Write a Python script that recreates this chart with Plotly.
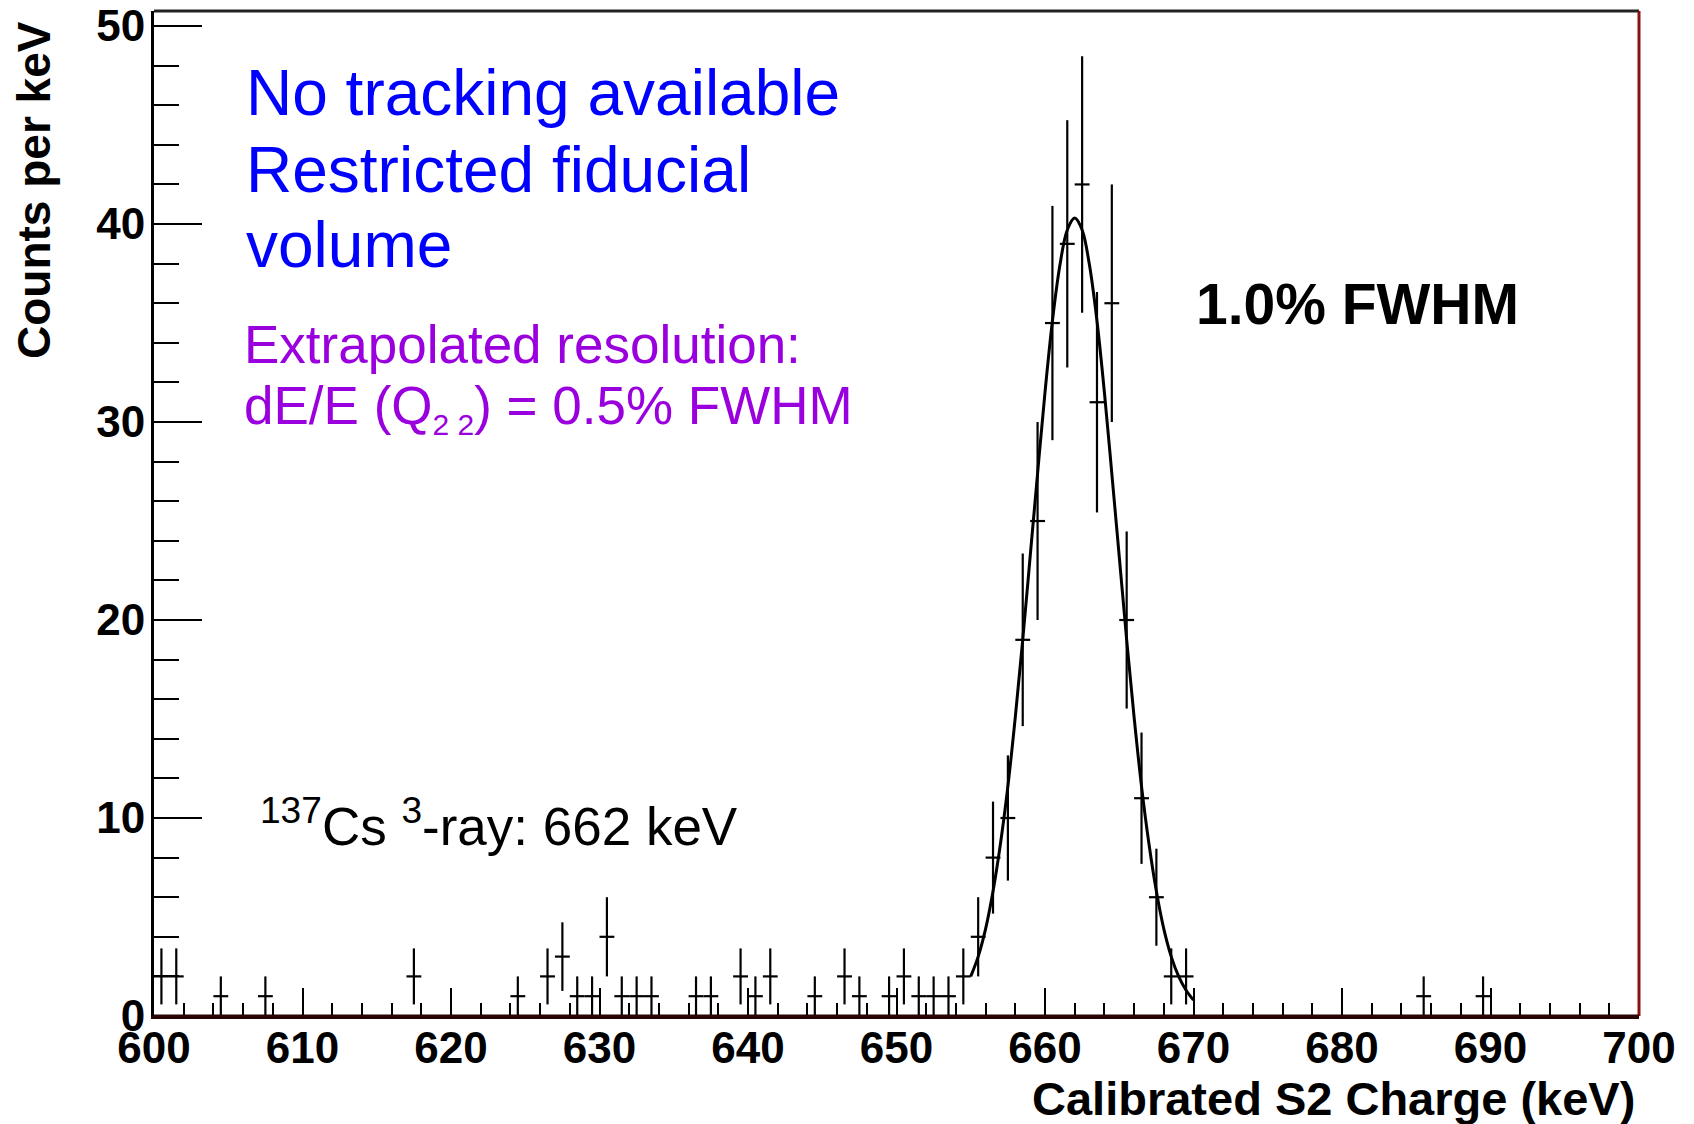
import numpy as np
import plotly.graph_objects as go

# ---------------- data ----------------
energy_keV = [600.5, 601.5, 604.5, 607.5, 617.5, 624.5, 626.5, 627.5, 628.5, 629.5,
              630.5, 631.5, 632.5, 633.5, 636.5, 637.5, 639.5, 640.5, 641.5, 644.5,
              646.5, 647.5, 649.5, 650.5, 651.5, 652.5, 653.5, 654.5, 655.5, 656.5,
              657.5, 658.5, 659.5, 660.5, 661.5, 662.5, 663.5, 664.5, 665.5, 666.5,
              667.5, 668.5, 669.5, 685.5, 689.5]
counts_per_keV = [2, 2, 1, 1, 2, 1, 2, 3, 1, 1,
                  4, 1, 1, 1, 1, 1, 2, 1, 2, 1,
                  2, 1, 1, 2, 1, 1, 1, 2, 4, 8,
                  10, 19, 25, 35, 39, 42, 31, 36, 20, 11,
                  6, 2, 2, 1, 1]
bin_half_width_keV = 0.5

fit_energy_keV = [655.0, 655.5, 656.0, 656.5, 657.0, 657.5, 658.0, 658.5, 659.0, 659.5,
                  660.0, 660.5, 661.0, 661.5, 662.0, 662.5, 663.0, 663.5, 664.0, 664.5,
                  665.0, 665.5, 666.0, 666.5, 667.0, 667.5, 668.0, 668.5, 669.0, 669.5,
                  670.0]
fit_counts = [2.0, 3.0, 4.4, 6.3, 8.7, 11.6, 15.1, 19.0, 23.2, 27.4,
              31.5, 35.1, 37.9, 39.7, 40.3, 39.7, 37.9, 35.1, 31.5, 27.4,
              23.2, 19.0, 15.1, 11.6, 8.7, 6.3, 4.4, 3.0, 2.0, 1.3,
              0.8]

x_ticks = [600, 610, 620, 630, 640, 650, 660, 670, 680, 690, 700]
y_ticks = [0, 10, 20, 30, 40, 50]

# ---------------- geometry (page pixels; page body has an 8px margin) ----------------
W, H = 1694, 1124
OFF = 8
L, R, T, B = 154 - OFF, 1639 - OFF, 11 - OFF, 1016 - OFF


def px(X):
    return (X - OFF - L) / (R - L)


def py(Y):
    return (B - (Y - OFF)) / (B - T)


FONT = "Liberation Sans, Arial, Helvetica, sans-serif"

errors = np.sqrt(np.array(counts_per_keV, dtype=float))

fig = go.Figure()

fig.add_trace(go.Scatter(
    x=energy_keV, y=counts_per_keV, mode="markers",
    marker=dict(size=1, color="black"),
    error_y=dict(type="data", array=errors, symmetric=True,
                 color="black", thickness=2.2, width=0),
    error_x=dict(type="constant", value=bin_half_width_keV,
                 color="black", thickness=2.2, width=0),
    showlegend=False, hoverinfo="x+y",
))

fig.add_trace(go.Scatter(
    x=fit_energy_keV, y=fit_counts, mode="lines",
    line=dict(color="black", width=3, shape="spline"),
    showlegend=False,
))

annotations = []


def ann(text, X, Y, size, color="black", bold=False, xanchor="left", angle=0):
    annotations.append(dict(
        text=text, xref="paper", yref="paper", x=px(X), y=py(Y),
        xanchor=xanchor, yanchor="middle", showarrow=False, textangle=angle,
        font=dict(family=FONT, size=size, color=color,
                  weight="bold" if bold else "normal"),
    ))


ann("No tracking available", 244, 93, 64, "#0000ff")
ann("Restricted fiducial", 244, 170, 64, "#0000ff")
ann("volume", 244, 245, 64, "#0000ff")
ann("Extrapolated resolution:", 242, 344, 53, "#9900dd")
ann("dE/E (Q<sub><span style='font-size:30px'>2 2</span></sub>) = 0.5% FWHM",
    242, 408, 53, "#9900dd")
ann("<sup>137</sup>Cs <sup>3</sup>-ray: 662 keV", 258, 822, 53, "black")
ann("1.0% FWHM", 1194, 304, 57, "black", bold=True)
ann("Calibrated S2 Charge (keV)", 1637, 1098, 47, "black", bold=True, xanchor="right")
ann("Counts per keV", 34, 190, 46, "black", bold=True, xanchor="center", angle=-90)

shapes = [
    dict(type="line", xref="paper", yref="paper", x0=0, x1=1, y0=1, y1=1,
         line=dict(color="#222222", width=3)),
    dict(type="line", xref="paper", yref="paper", x0=1, x1=1, y0=0, y1=1,
         line=dict(color="#8b1010", width=3)),
    dict(type="line", xref="paper", yref="paper", x0=0, x1=1, y0=0, y1=0,
         line=dict(color="#2a0505", width=3)),
]

fig.update_layout(
    width=W, height=H, autosize=False,
    margin=dict(l=L, r=W - R, t=T, b=H - B, pad=0, autoexpand=False),
    paper_bgcolor="white", plot_bgcolor="white",
    annotations=annotations, shapes=shapes,
    xaxis=dict(
        range=[600, 700], tickmode="array", tickvals=x_ticks,
        ticktext=[str(v) for v in x_ticks], automargin=False,
        ticks="inside", ticklen=28, tickwidth=2, tickcolor="black",
        ticklabelstandoff=-9, ticklabeloverflow="allow",
        minor=dict(dtick=2, tick0=600, ticks="inside", ticklen=13,
                   tickwidth=2, tickcolor="black", showgrid=False),
        showgrid=False, zeroline=False, showline=True, linecolor="#2a0505",
        linewidth=3,
        tickfont=dict(family=FONT, size=44, color="black", weight="bold"),
    ),
    yaxis=dict(
        range=[0, 50.76], tickmode="array", tickvals=y_ticks,
        ticktext=[str(v) for v in y_ticks], automargin=False,
        ticks="inside", ticklen=48, tickwidth=2, tickcolor="black",
        ticklabelstandoff=-3, ticklabeloverflow="allow",
        minor=dict(dtick=2, tick0=0, ticks="inside", ticklen=25,
                   tickwidth=2, tickcolor="black", showgrid=False),
        showgrid=False, zeroline=False, showline=True, linecolor="black",
        linewidth=3,
        tickfont=dict(family=FONT, size=44, color="black", weight="bold"),
    ),
)

fig.write_html("out.html")
